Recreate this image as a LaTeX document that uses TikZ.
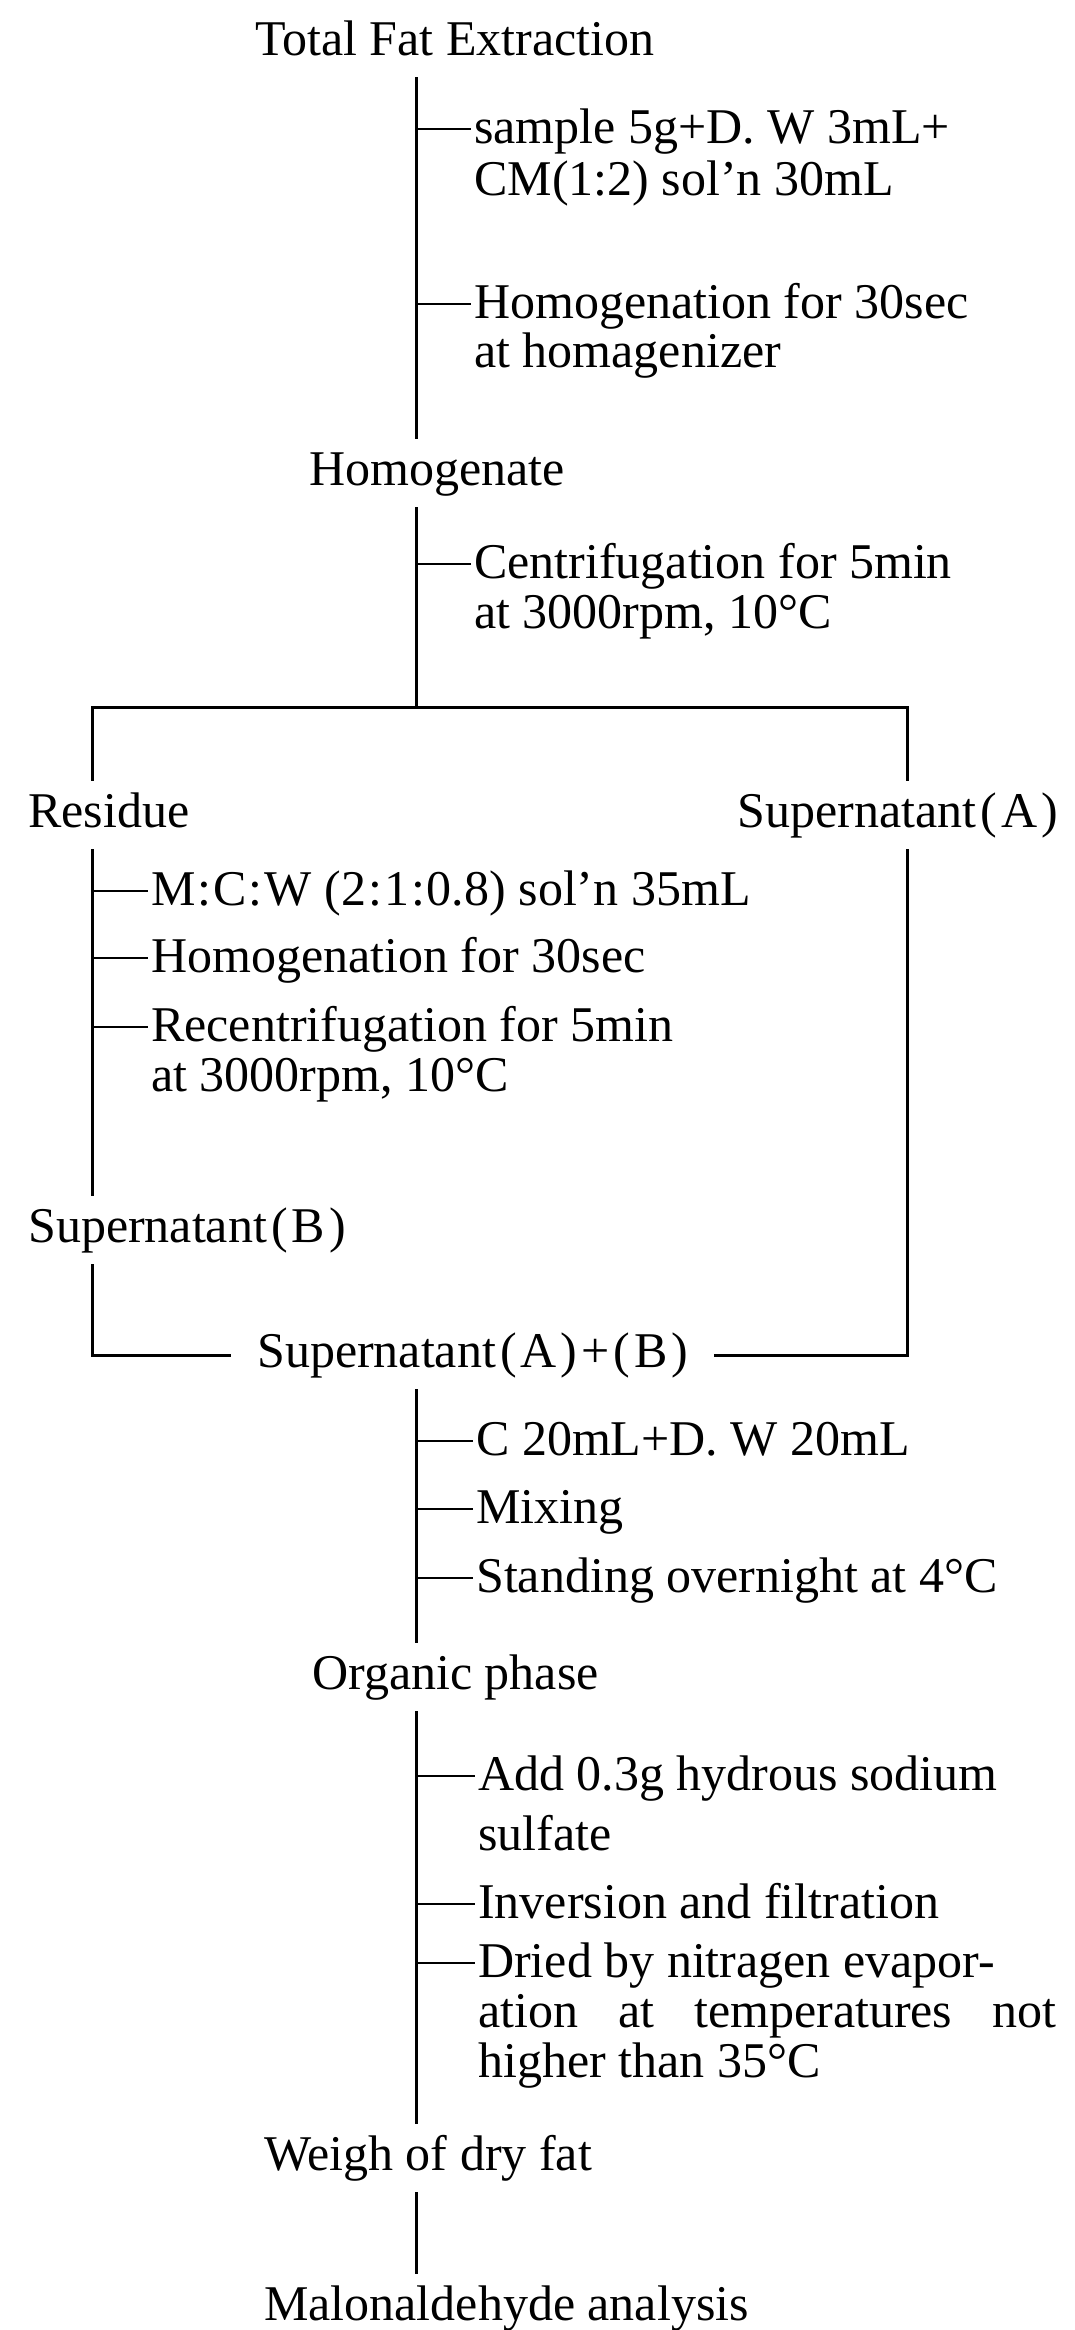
\documentclass[tikz,border=0pt]{standalone}
\usepackage{fontspec}
\setmainfont{Liberation Serif}
\usetikzlibrary{positioning}

\newcommand{\pk}{\kern4pt}

\tikzset{
  stage/.style={anchor=base west, inner xsep=0pt, inner ysep=12pt, text height=34pt, text depth=10pt, font=\fontsize{50}{47}\selectfont},
  stepnote/.style={anchor=base west, inner sep=0pt, text height=34pt, text depth=6pt, font=\fontsize{50}{47}\selectfont},
  rule/.style={line width=3pt},
  tick/.style={line width=2.5pt},
}

\begin{document}
\begin{tikzpicture}[x=1pt, y=-1pt]
    \useasboundingbox (0,0) rectangle (1074,2330);
    \coordinate (trunk) at (416,0);
    \coordinate (lft) at (92,0);
    \coordinate (rgt) at (907,0);
    \coordinate (split) at (416,707);

    % stages
    \node[stage] (tfe) at (255,55) {Total Fat Extraction};
    \node[stage] (hom) at (309,485) {Homogenate};
    \node[stage] (res) at (28,827) {Residue};
    \node[stage, anchor=base east] (supa) at (1058,827) {Supernatant\pk(\pk A\pk)};
    \node[stage] (supb) at (28,1242) {Supernatant\pk(\pk B\pk)};
    \node[stage, inner xsep=26pt] (supab) at (231,1367) {Supernatant\pk(\pk A\pk)\pk+\pk(\pk B\pk)};
    \node[stage] (org) at (312,1689) {Organic phase};
    \node[stage] (dry) at (264,2170) {Weigh of dry fat};
    \node[stage] (mda) at (264,2320) {Malonaldehyde analysis};

    % main lines
    \draw[rule] (tfe.south -| trunk) -- (hom.north -| trunk);
    \draw[rule] (hom.south -| trunk) -- (split);
    \draw[rule] (res.north -| lft) |- (split) -| (supa.north -| rgt);
    \draw[rule] (res.south -| lft) -- (supb.north -| lft);
    \draw[rule] (supb.south -| lft) |- (supab.west);
    \draw[rule] (supa.south -| rgt) |- (supab.east);
    \draw[rule] (supab.south -| trunk) -- (org.north -| trunk);
    \draw[rule] (org.south -| trunk) -- (dry.north -| trunk);
    \draw[rule] (dry.south -| trunk) -- (mda.north -| trunk);

    % steps before homogenate
    \node[stepnote] (s1) at (474,143) {sample 5g+D. W 3mL+};
    \node[stepnote] (s1b) at (474,195) {CM(1:2) sol'n 30mL};
    \node[stepnote] (s2) at (474,318) {Homogenation for 30sec};
    \node[stepnote] (s2b) at (474,367) {at homagenizer};
    \node[stepnote] (s3) at (474,578) {Centrifugation for 5min};
    \node[stepnote] (s3b) at (474,628) {at 3000rpm, 10°C};
    \draw[tick] (trunk |- s1.west) -- ([xshift=-3pt]s1.west);
    \draw[tick] (trunk |- s2.west) -- ([xshift=-3pt]s2.west);
    \draw[tick] (trunk |- s3.west) -- ([xshift=-3pt]s3.west);

    % residue branch
    \node[stepnote] (r1) at (151,905) {M\kern2pt:\kern2pt C\kern2pt:\kern2pt W (2\kern2pt:\kern2pt 1\kern2pt:\kern2pt 0.8) sol'n 35mL};
    \node[stepnote] (r2) at (151,972) {Homogenation for 30sec};
    \node[stepnote] (r3) at (151,1041) {Recentrifugation for 5min};
    \node[stepnote] (r3b) at (151,1091) {at 3000rpm, 10°C};
    \draw[tick] (lft |- r1.west) -- ([xshift=-3pt]r1.west);
    \draw[tick] (lft |- r2.west) -- ([xshift=-3pt]r2.west);
    \draw[tick] (lft |- r3.west) -- ([xshift=-3pt]r3.west);

    % steps after joining
    \node[stepnote] (c1) at (476,1455) {C 20mL+D. W 20mL};
    \node[stepnote] (c2) at (476,1523) {Mixing};
    \node[stepnote] (c3) at (476,1592) {Standing overnight at 4°C};
    \draw[tick] (trunk |- c1.west) -- ([xshift=-3pt]c1.west);
    \draw[tick] (trunk |- c2.west) -- ([xshift=-3pt]c2.west);
    \draw[tick] (trunk |- c3.west) -- ([xshift=-3pt]c3.west);

    \node[stepnote] (d1) at (478,1790) {Add 0.3g hydrous sodium};
    \node[stepnote] (d1b) at (478,1850) {sulfate};
    \node[stepnote] (d2) at (478,1918) {Inversion and filtration};
    \node[stepnote] (d3) at (478,1977) {Dried by nitragen evapor-};
    \node[stepnote] (d3b) at (478,2027) {\makebox[578pt][s]{ation at temperatures not}};
    \node[stepnote] (d3c) at (478,2077) {higher than 35°C};
    \draw[tick] (trunk |- d1.west) -- ([xshift=-3pt]d1.west);
    \draw[tick] (trunk |- d2.west) -- ([xshift=-3pt]d2.west);
    \draw[tick] (trunk |- d3.west) -- ([xshift=-3pt]d3.west);
\end{tikzpicture}
\end{document}
